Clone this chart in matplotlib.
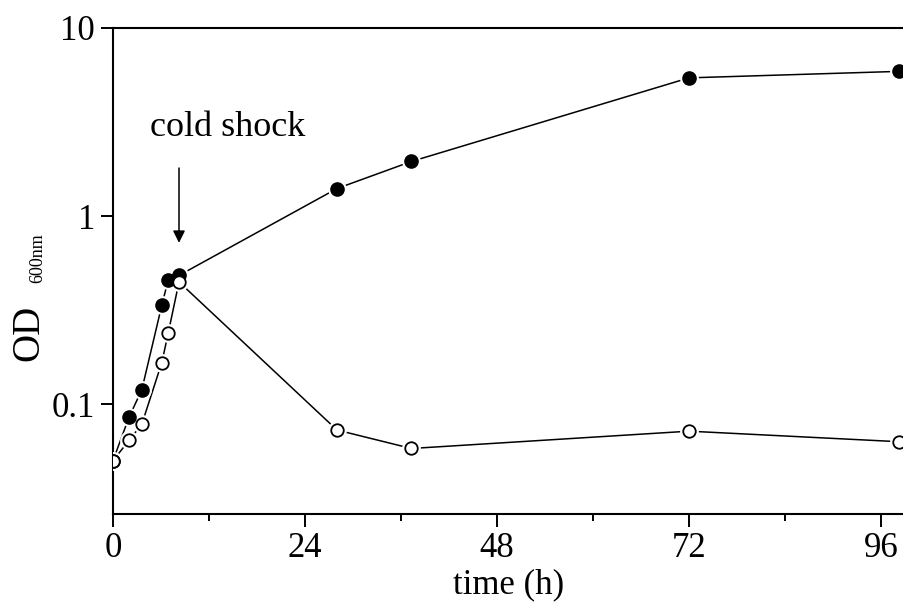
import matplotlib
matplotlib.use("Agg")
import matplotlib.pyplot as plt
from matplotlib.ticker import FixedLocator, NullLocator, FixedFormatter

# ---- data ----
time_h = [0, 2, 3.6, 6.1, 6.9, 8.25, 28, 37.3, 72, 98.3]
od_control = [0.05, 0.085, 0.119, 0.335, 0.457, 0.483, 1.40, 1.95, 5.43, 5.88]
od_cold = [0.05, 0.064, 0.078, 0.166, 0.238, 0.446, 0.0727, 0.058, 0.0717, 0.063]
x_ticks = [0, 24, 48, 72, 96]
x_minor = [12, 36, 60, 84]
y_ticks = [0.1, 1, 10]
y_ticklabels = ["0.1", "1", "10"]
shock_time = 8.25

serif = ["Liberation Serif", "DejaVu Serif"]
plt.rcParams["font.family"] = serif

fig = plt.figure(figsize=(9.04, 6.11), dpi=100)
ax = fig.add_axes([113 / 904, 1 - 514 / 611, 1 - 113 / 904, (514 - 28) / 611])

ax.set_yscale("log")
ax.set_xlim(0, 98.875)
ax.set_ylim(0.026, 10)

lw = 1.1
# lines
ax.plot(time_h, od_control, color="black", lw=lw, zorder=2)
ax.plot(time_h, od_cold, color="black", lw=lw, zorder=2)
# white halos so lines stop short of markers
for ys in (od_control, od_cold):
    ax.plot(time_h, ys, linestyle="none", marker="o", ms=12.5,
            mfc="white", mec="white", zorder=3)
ax.plot(time_h, od_control, linestyle="none", marker="o", ms=9.5,
        mfc="black", mec="black", mew=1.0, zorder=4)
ax.plot(time_h, od_cold, linestyle="none", marker="o", ms=9,
        mfc="white", mec="black", mew=1.3, zorder=5)

# axes styling
for side in ("left", "bottom", "top"):
    ax.spines[side].set_linewidth(1.5)
ax.spines["right"].set_visible(False)

ax.xaxis.set_major_locator(FixedLocator(x_ticks))
ax.xaxis.set_minor_locator(FixedLocator(x_minor))
ax.yaxis.set_major_locator(FixedLocator(y_ticks))
ax.yaxis.set_major_formatter(FixedFormatter(y_ticklabels))
ax.yaxis.set_minor_locator(NullLocator())
ax.tick_params(axis="both", which="major", direction="out", length=9, width=1.4,
               labelsize=25, pad=4)
ax.tick_params(axis="x", which="minor", direction="out", length=5, width=1.4)
ax.tick_params(top=False, right=False)

ax.set_xlabel("time (h)", fontsize=25, labelpad=2)

# y label: OD with small subscript
fig.text(29 / 904, 1 - 333 / 611, "OD", rotation=90, fontsize=28,
         ha="center", va="center", family=serif)
fig.text(38 / 904, 1 - 258 / 611, "600nm", rotation=90, fontsize=13,
         ha="center", va="center", family=serif)

# cold shock annotation
ax.annotate("", xy=(shock_time, 0.72), xytext=(shock_time, 1.8),
            arrowprops=dict(arrowstyle="-|>", color="black", lw=1.1,
                            mutation_scale=18, shrinkA=0, shrinkB=0))
ax.text(14.3, 2.95, "cold shock", fontsize=26, ha="center", va="center")

fig.savefig("out.png", dpi=100)
